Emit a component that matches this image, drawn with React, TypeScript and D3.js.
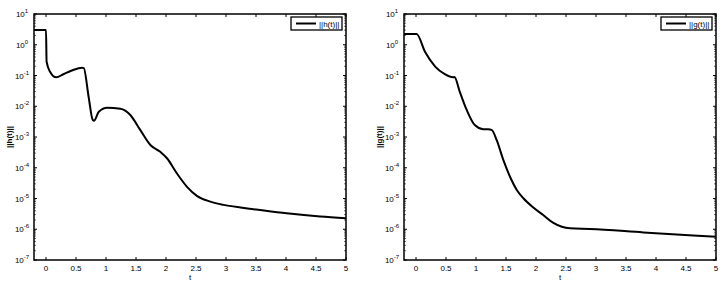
import * as d3 from "d3";

// ||h(t)|| samples (t, value)
const hT = [-0.2, 0.0, 0.01, 0.07, 0.17, 0.29, 0.43, 0.6, 0.63, 0.71, 0.78, 0.8, 0.88, 1.02, 1.24, 1.32, 1.405, 1.57, 1.74, 1.905, 2.02, 2.18, 2.35, 2.52, 2.74, 2.96, 3.24, 3.46, 4.01, 4.57, 5.0];
const hValues = [3.0, 3.0, 0.28, 0.13, 0.087, 0.11, 0.145, 0.18, 0.174, 0.0204, 0.00355, 0.0034, 0.0066, 0.0089, 0.0083, 0.0072, 0.0052, 0.0017, 5.5e-4, 3.3e-4, 2.0e-4, 6.6e-5, 2.4e-5, 1.2e-5, 7.9e-6, 6.2e-6, 5.1e-6, 4.5e-6, 3.3e-6, 2.6e-6, 2.3e-6];

// ||g(t)|| samples
const gT = [-0.2, 0.01, 0.15, 0.32, 0.48, 0.62, 0.64, 0.73, 0.845, 0.98, 1.12, 1.2, 1.26, 1.345, 1.455, 1.567, 1.68, 1.79, 1.955, 2.12, 2.29, 2.43, 2.57, 2.9, 3.79, 4.62, 5.0];
const gValues = [2.24, 2.24, 0.59, 0.195, 0.11, 0.087, 0.089, 0.0295, 0.0076, 0.00245, 0.0018, 0.00178, 0.0017, 7.9e-4, 1.8e-4, 5.1e-5, 1.9e-5, 1.02e-5, 5.1e-6, 2.9e-6, 1.6e-6, 1.2e-6, 1.07e-6, 1.02e-6, 0.79e-6, 0.63e-6, 0.57e-6];

const xTicks = [0, 0.5, 1, 1.5, 2, 2.5, 3, 3.5, 4, 4.5, 5];
const yExponents = [1, 0, -1, -2, -3, -4, -5, -6, -7];

const BOX = { width: 312, height: 246 };
const FONT = "Liberation Sans, Arial, sans-serif";

type PanelProps = {
  left: number;
  top: number;
  t: number[];
  values: number[];
  yLabel: string;
};

const Panel = ({ left, top, t, values, yLabel }: PanelProps) => {
  const xScale = d3.scaleLinear().domain([-0.2, 5]).range([0, BOX.width]);
  const yScale = d3.scaleLog().domain([1e-7, 10]).range([BOX.height, 0]);

  const line = d3
    .line<number>()
    .x((_, i) => xScale(t[i]))
    .y((d) => yScale(d))
    .curve(d3.curveMonotoneX);

  // minor ticks: 2..9 x 10^k
  const minor: number[] = [];
  for (let e = -7; e < 1; e++) {
    for (let m = 2; m < 10; m++) minor.push(m * Math.pow(10, e));
  }

  return (
    <g transform={`translate(${left},${top})`} fontFamily={FONT}>
      <rect width={BOX.width} height={BOX.height} fill="white" />
      <path d={line(values) ?? ""} fill="none" stroke="black" strokeWidth={2} strokeLinejoin="round" />

      {/* x ticks */}
      {xTicks.map((v) => (
        <g key={v}>
          <line x1={xScale(v)} x2={xScale(v)} y1={BOX.height} y2={BOX.height - 3} stroke="black" />
          <line x1={xScale(v)} x2={xScale(v)} y1={0} y2={3} stroke="black" />
          <text x={xScale(v)} y={BOX.height + 11} textAnchor="middle" fontSize={8}>
            {v}
          </text>
        </g>
      ))}

      {/* y major ticks */}
      {yExponents.map((e) => {
        const y = yScale(Math.pow(10, e));
        return (
          <g key={e}>
            <line x1={0} x2={3} y1={y} y2={y} stroke="black" />
            <line x1={BOX.width} x2={BOX.width - 3} y1={y} y2={y} stroke="black" />
            <text x={-12} y={y + 3} textAnchor="middle" fontSize={8}>
              10
              <tspan dy={-4} fontSize={6}>
                {e}
              </tspan>
            </text>
          </g>
        );
      })}

      {/* y minor ticks */}
      {minor.map((v, i) => (
        <g key={i}>
          <line x1={0} x2={1.8} y1={yScale(v)} y2={yScale(v)} stroke="black" strokeWidth={0.7} />
          <line x1={BOX.width} x2={BOX.width - 1.8} y1={yScale(v)} y2={yScale(v)} stroke="black" strokeWidth={0.7} />
        </g>
      ))}

      <rect width={BOX.width} height={BOX.height} fill="none" stroke="black" strokeWidth={1.5} />

      {/* legend */}
      <g transform={`translate(${BOX.width - 55},3)`}>
        <rect width={51} height={13} fill="white" stroke="black" strokeWidth={1.3} />
        <line x1={5} x2={25} y1={6.5} y2={6.5} stroke="black" strokeWidth={2} />
        <text x={28} y={9.5} fontSize={8}>
          {yLabel}
        </text>
      </g>

      {/* axis labels */}
      <text x={BOX.width / 2} y={BOX.height + 20} textAnchor="middle" fontSize={8}>
        t
      </text>
      <text
        transform={`translate(${-22},${BOX.height / 2}) rotate(-90)`}
        textAnchor="middle"
        fontSize={8}
        fontWeight="bold"
      >
        {yLabel}
      </text>
    </g>
  );
};

export default function App() {
  return (
    <svg
      width={727}
      height={283}
      style={{ position: "absolute", left: 0, top: 0, background: "white" }}
    >
      <Panel left={34} top={14} t={hT} values={hValues} yLabel="||h(t)||" />
      <Panel left={404} top={14} t={gT} values={gValues} yLabel="||g(t)||" />
    </svg>
  );
}
